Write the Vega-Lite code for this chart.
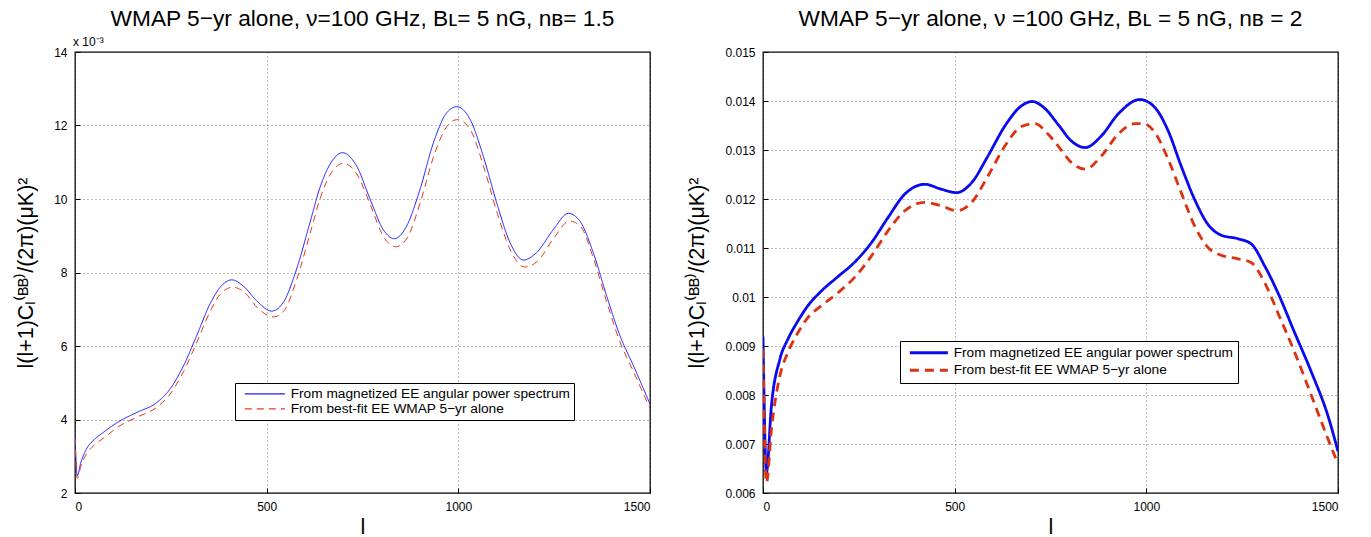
{
  "$schema": "https://vega.github.io/schema/vega-lite/v6.json",
  "background": "white",
  "padding": {"left": 15, "top": 7, "right": 10, "bottom": 4},
  "config": {
    "font": "Liberation Sans",
    "view": {"stroke": "black", "strokeWidth": 1.3},
    "axis": {
      "labelFont": "Liberation Sans", "labelFontSize": 12, "labelColor": "black",
      "titleFont": "Liberation Sans", "titleFontSize": 21.5, "titleFontWeight": "normal", "titleColor": "black",
      "ticks": true, "tickSize": -5, "tickColor": "black", "tickWidth": 1, "domain": false, "grid": true,
      "gridColor": "#555555", "gridDash": [1, 3], "gridWidth": 0.8,
      "labelPadding": 13
    },
    "title": {"font": "Liberation Sans", "fontSize": 22.7, "fontWeight": "normal", "color": "black"},
    "legend": {"labelFont": "Liberation Sans", "labelFontSize": 13.7, "labelColor": "black", "labelLimit": 500}
  },
  "datasets": {
    "left": [
      {"l": 0, "value": 0.00360, "series": "From magnetized EE angular power spectrum"},
      {"l": 6, "value": 0.00247, "series": "From magnetized EE angular power spectrum"},
      {"l": 15, "value": 0.00282, "series": "From magnetized EE angular power spectrum"},
      {"l": 30, "value": 0.00320, "series": "From magnetized EE angular power spectrum"},
      {"l": 50, "value": 0.00345, "series": "From magnetized EE angular power spectrum"},
      {"l": 74, "value": 0.00365, "series": "From magnetized EE angular power spectrum"},
      {"l": 117, "value": 0.00396, "series": "From magnetized EE angular power spectrum"},
      {"l": 161, "value": 0.00419, "series": "From magnetized EE angular power spectrum"},
      {"l": 213, "value": 0.00446, "series": "From magnetized EE angular power spectrum"},
      {"l": 248, "value": 0.00483, "series": "From magnetized EE angular power spectrum"},
      {"l": 283, "value": 0.00546, "series": "From magnetized EE angular power spectrum"},
      {"l": 317, "value": 0.00627, "series": "From magnetized EE angular power spectrum"},
      {"l": 352, "value": 0.00714, "series": "From magnetized EE angular power spectrum"},
      {"l": 378, "value": 0.00759, "series": "From magnetized EE angular power spectrum"},
      {"l": 409, "value": 0.00780, "series": "From magnetized EE angular power spectrum"},
      {"l": 439, "value": 0.00763, "series": "From magnetized EE angular power spectrum"},
      {"l": 474, "value": 0.00723, "series": "From magnetized EE angular power spectrum"},
      {"l": 513, "value": 0.00695, "series": "From magnetized EE angular power spectrum"},
      {"l": 543, "value": 0.00718, "series": "From magnetized EE angular power spectrum"},
      {"l": 578, "value": 0.00809, "series": "From magnetized EE angular power spectrum"},
      {"l": 613, "value": 0.00936, "series": "From magnetized EE angular power spectrum"},
      {"l": 639, "value": 0.01031, "series": "From magnetized EE angular power spectrum"},
      {"l": 665, "value": 0.01094, "series": "From magnetized EE angular power spectrum"},
      {"l": 698, "value": 0.01126, "series": "From magnetized EE angular power spectrum"},
      {"l": 735, "value": 0.01089, "series": "From magnetized EE angular power spectrum"},
      {"l": 770, "value": 0.00999, "series": "From magnetized EE angular power spectrum"},
      {"l": 804, "value": 0.00917, "series": "From magnetized EE angular power spectrum"},
      {"l": 833, "value": 0.00892, "series": "From magnetized EE angular power spectrum"},
      {"l": 865, "value": 0.00926, "series": "From magnetized EE angular power spectrum"},
      {"l": 900, "value": 0.01026, "series": "From magnetized EE angular power spectrum"},
      {"l": 935, "value": 0.01153, "series": "From magnetized EE angular power spectrum"},
      {"l": 970, "value": 0.01235, "series": "From magnetized EE angular power spectrum"},
      {"l": 996, "value": 0.01251, "series": "From magnetized EE angular power spectrum"},
      {"l": 1031, "value": 0.01216, "series": "From magnetized EE angular power spectrum"},
      {"l": 1065, "value": 0.01117, "series": "From magnetized EE angular power spectrum"},
      {"l": 1100, "value": 0.00990, "series": "From magnetized EE angular power spectrum"},
      {"l": 1135, "value": 0.00881, "series": "From magnetized EE angular power spectrum"},
      {"l": 1170, "value": 0.00834, "series": "From magnetized EE angular power spectrum"},
      {"l": 1204, "value": 0.00854, "series": "From magnetized EE angular power spectrum"},
      {"l": 1248, "value": 0.00917, "series": "From magnetized EE angular power spectrum"},
      {"l": 1287, "value": 0.00961, "series": "From magnetized EE angular power spectrum"},
      {"l": 1317, "value": 0.00940, "series": "From magnetized EE angular power spectrum"},
      {"l": 1352, "value": 0.00854, "series": "From magnetized EE angular power spectrum"},
      {"l": 1387, "value": 0.00736, "series": "From magnetized EE angular power spectrum"},
      {"l": 1422, "value": 0.00627, "series": "From magnetized EE angular power spectrum"},
      {"l": 1457, "value": 0.00546, "series": "From magnetized EE angular power spectrum"},
      {"l": 1500, "value": 0.00442, "series": "From magnetized EE angular power spectrum"},
      {"l": 0, "value": 0.00350, "series": "From best-fit EE WMAP 5−yr alone"},
      {"l": 6, "value": 0.00240, "series": "From best-fit EE WMAP 5−yr alone"},
      {"l": 15, "value": 0.00272, "series": "From best-fit EE WMAP 5−yr alone"},
      {"l": 30, "value": 0.00306, "series": "From best-fit EE WMAP 5−yr alone"},
      {"l": 50, "value": 0.00330, "series": "From best-fit EE WMAP 5−yr alone"},
      {"l": 74, "value": 0.00349, "series": "From best-fit EE WMAP 5−yr alone"},
      {"l": 117, "value": 0.00383, "series": "From best-fit EE WMAP 5−yr alone"},
      {"l": 161, "value": 0.00406, "series": "From best-fit EE WMAP 5−yr alone"},
      {"l": 213, "value": 0.00433, "series": "From best-fit EE WMAP 5−yr alone"},
      {"l": 248, "value": 0.00469, "series": "From best-fit EE WMAP 5−yr alone"},
      {"l": 283, "value": 0.00530, "series": "From best-fit EE WMAP 5−yr alone"},
      {"l": 317, "value": 0.00608, "series": "From best-fit EE WMAP 5−yr alone"},
      {"l": 352, "value": 0.00693, "series": "From best-fit EE WMAP 5−yr alone"},
      {"l": 378, "value": 0.00740, "series": "From best-fit EE WMAP 5−yr alone"},
      {"l": 412, "value": 0.00760, "series": "From best-fit EE WMAP 5−yr alone"},
      {"l": 442, "value": 0.00746, "series": "From best-fit EE WMAP 5−yr alone"},
      {"l": 477, "value": 0.00703, "series": "From best-fit EE WMAP 5−yr alone"},
      {"l": 518, "value": 0.00679, "series": "From best-fit EE WMAP 5−yr alone"},
      {"l": 546, "value": 0.00697, "series": "From best-fit EE WMAP 5−yr alone"},
      {"l": 578, "value": 0.00780, "series": "From best-fit EE WMAP 5−yr alone"},
      {"l": 613, "value": 0.00905, "series": "From best-fit EE WMAP 5−yr alone"},
      {"l": 639, "value": 0.01000, "series": "From best-fit EE WMAP 5−yr alone"},
      {"l": 665, "value": 0.01065, "series": "From best-fit EE WMAP 5−yr alone"},
      {"l": 700, "value": 0.01097, "series": "From best-fit EE WMAP 5−yr alone"},
      {"l": 737, "value": 0.01065, "series": "From best-fit EE WMAP 5−yr alone"},
      {"l": 772, "value": 0.00980, "series": "From best-fit EE WMAP 5−yr alone"},
      {"l": 806, "value": 0.00895, "series": "From best-fit EE WMAP 5−yr alone"},
      {"l": 837, "value": 0.00870, "series": "From best-fit EE WMAP 5−yr alone"},
      {"l": 868, "value": 0.00897, "series": "From best-fit EE WMAP 5−yr alone"},
      {"l": 902, "value": 0.00995, "series": "From best-fit EE WMAP 5−yr alone"},
      {"l": 937, "value": 0.01120, "series": "From best-fit EE WMAP 5−yr alone"},
      {"l": 972, "value": 0.01200, "series": "From best-fit EE WMAP 5−yr alone"},
      {"l": 998, "value": 0.01216, "series": "From best-fit EE WMAP 5−yr alone"},
      {"l": 1033, "value": 0.01185, "series": "From best-fit EE WMAP 5−yr alone"},
      {"l": 1067, "value": 0.01085, "series": "From best-fit EE WMAP 5−yr alone"},
      {"l": 1102, "value": 0.00960, "series": "From best-fit EE WMAP 5−yr alone"},
      {"l": 1137, "value": 0.00858, "series": "From best-fit EE WMAP 5−yr alone"},
      {"l": 1173, "value": 0.00815, "series": "From best-fit EE WMAP 5−yr alone"},
      {"l": 1206, "value": 0.00830, "series": "From best-fit EE WMAP 5−yr alone"},
      {"l": 1250, "value": 0.00895, "series": "From best-fit EE WMAP 5−yr alone"},
      {"l": 1290, "value": 0.00940, "series": "From best-fit EE WMAP 5−yr alone"},
      {"l": 1319, "value": 0.00925, "series": "From best-fit EE WMAP 5−yr alone"},
      {"l": 1352, "value": 0.00840, "series": "From best-fit EE WMAP 5−yr alone"},
      {"l": 1387, "value": 0.00720, "series": "From best-fit EE WMAP 5−yr alone"},
      {"l": 1422, "value": 0.00610, "series": "From best-fit EE WMAP 5−yr alone"},
      {"l": 1457, "value": 0.00530, "series": "From best-fit EE WMAP 5−yr alone"},
      {"l": 1500, "value": 0.00430, "series": "From best-fit EE WMAP 5−yr alone"}
    ],
    "right": [
      {"l": 0, "value": 0.00920, "series": "From magnetized EE angular power spectrum"},
      {"l": 9, "value": 0.00642, "series": "From magnetized EE angular power spectrum"},
      {"l": 22, "value": 0.00778, "series": "From magnetized EE angular power spectrum"},
      {"l": 44, "value": 0.00873, "series": "From magnetized EE angular power spectrum"},
      {"l": 65, "value": 0.00914, "series": "From magnetized EE angular power spectrum"},
      {"l": 91, "value": 0.00951, "series": "From magnetized EE angular power spectrum"},
      {"l": 117, "value": 0.00982, "series": "From magnetized EE angular power spectrum"},
      {"l": 152, "value": 0.01012, "series": "From magnetized EE angular power spectrum"},
      {"l": 196, "value": 0.01042, "series": "From magnetized EE angular power spectrum"},
      {"l": 239, "value": 0.01071, "series": "From magnetized EE angular power spectrum"},
      {"l": 283, "value": 0.01111, "series": "From magnetized EE angular power spectrum"},
      {"l": 326, "value": 0.01162, "series": "From magnetized EE angular power spectrum"},
      {"l": 370, "value": 0.01210, "series": "From magnetized EE angular power spectrum"},
      {"l": 422, "value": 0.01230, "series": "From magnetized EE angular power spectrum"},
      {"l": 465, "value": 0.01220, "series": "From magnetized EE angular power spectrum"},
      {"l": 505, "value": 0.01213, "series": "From magnetized EE angular power spectrum"},
      {"l": 544, "value": 0.01233, "series": "From magnetized EE angular power spectrum"},
      {"l": 587, "value": 0.01288, "series": "From magnetized EE angular power spectrum"},
      {"l": 631, "value": 0.01349, "series": "From magnetized EE angular power spectrum"},
      {"l": 674, "value": 0.01390, "series": "From magnetized EE angular power spectrum"},
      {"l": 702, "value": 0.01399, "series": "From magnetized EE angular power spectrum"},
      {"l": 735, "value": 0.01385, "series": "From magnetized EE angular power spectrum"},
      {"l": 770, "value": 0.01352, "series": "From magnetized EE angular power spectrum"},
      {"l": 805, "value": 0.01318, "series": "From magnetized EE angular power spectrum"},
      {"l": 841, "value": 0.01305, "series": "From magnetized EE angular power spectrum"},
      {"l": 883, "value": 0.01329, "series": "From magnetized EE angular power spectrum"},
      {"l": 926, "value": 0.01373, "series": "From magnetized EE angular power spectrum"},
      {"l": 983, "value": 0.01403, "series": "From magnetized EE angular power spectrum"},
      {"l": 1022, "value": 0.01387, "series": "From magnetized EE angular power spectrum"},
      {"l": 1057, "value": 0.01339, "series": "From magnetized EE angular power spectrum"},
      {"l": 1091, "value": 0.01267, "series": "From magnetized EE angular power spectrum"},
      {"l": 1126, "value": 0.01199, "series": "From magnetized EE angular power spectrum"},
      {"l": 1161, "value": 0.01148, "series": "From magnetized EE angular power spectrum"},
      {"l": 1196, "value": 0.01126, "series": "From magnetized EE angular power spectrum"},
      {"l": 1239, "value": 0.01119, "series": "From magnetized EE angular power spectrum"},
      {"l": 1274, "value": 0.01108, "series": "From magnetized EE angular power spectrum"},
      {"l": 1309, "value": 0.01063, "series": "From magnetized EE angular power spectrum"},
      {"l": 1343, "value": 0.01009, "series": "From magnetized EE angular power spectrum"},
      {"l": 1387, "value": 0.00927, "series": "From magnetized EE angular power spectrum"},
      {"l": 1431, "value": 0.00846, "series": "From magnetized EE angular power spectrum"},
      {"l": 1474, "value": 0.00757, "series": "From magnetized EE angular power spectrum"},
      {"l": 1500, "value": 0.00685, "series": "From magnetized EE angular power spectrum"},
      {"l": 0, "value": 0.00893, "series": "From best-fit EE WMAP 5−yr alone"},
      {"l": 9, "value": 0.00621, "series": "From best-fit EE WMAP 5−yr alone"},
      {"l": 22, "value": 0.00730, "series": "From best-fit EE WMAP 5−yr alone"},
      {"l": 44, "value": 0.00839, "series": "From best-fit EE WMAP 5−yr alone"},
      {"l": 65, "value": 0.00887, "series": "From best-fit EE WMAP 5−yr alone"},
      {"l": 91, "value": 0.00927, "series": "From best-fit EE WMAP 5−yr alone"},
      {"l": 117, "value": 0.00958, "series": "From best-fit EE WMAP 5−yr alone"},
      {"l": 152, "value": 0.00982, "series": "From best-fit EE WMAP 5−yr alone"},
      {"l": 196, "value": 0.01009, "series": "From best-fit EE WMAP 5−yr alone"},
      {"l": 239, "value": 0.01040, "series": "From best-fit EE WMAP 5−yr alone"},
      {"l": 283, "value": 0.01084, "series": "From best-fit EE WMAP 5−yr alone"},
      {"l": 326, "value": 0.01135, "series": "From best-fit EE WMAP 5−yr alone"},
      {"l": 370, "value": 0.01176, "series": "From best-fit EE WMAP 5−yr alone"},
      {"l": 422, "value": 0.01193, "series": "From best-fit EE WMAP 5−yr alone"},
      {"l": 465, "value": 0.01186, "series": "From best-fit EE WMAP 5−yr alone"},
      {"l": 505, "value": 0.01176, "series": "From best-fit EE WMAP 5−yr alone"},
      {"l": 544, "value": 0.01193, "series": "From best-fit EE WMAP 5−yr alone"},
      {"l": 587, "value": 0.01247, "series": "From best-fit EE WMAP 5−yr alone"},
      {"l": 631, "value": 0.01308, "series": "From best-fit EE WMAP 5−yr alone"},
      {"l": 674, "value": 0.01348, "series": "From best-fit EE WMAP 5−yr alone"},
      {"l": 709, "value": 0.01354, "series": "From best-fit EE WMAP 5−yr alone"},
      {"l": 744, "value": 0.01332, "series": "From best-fit EE WMAP 5−yr alone"},
      {"l": 772, "value": 0.01306, "series": "From best-fit EE WMAP 5−yr alone"},
      {"l": 805, "value": 0.01274, "series": "From best-fit EE WMAP 5−yr alone"},
      {"l": 841, "value": 0.01261, "series": "From best-fit EE WMAP 5−yr alone"},
      {"l": 883, "value": 0.01288, "series": "From best-fit EE WMAP 5−yr alone"},
      {"l": 926, "value": 0.01332, "series": "From best-fit EE WMAP 5−yr alone"},
      {"l": 970, "value": 0.01354, "series": "From best-fit EE WMAP 5−yr alone"},
      {"l": 996, "value": 0.01353, "series": "From best-fit EE WMAP 5−yr alone"},
      {"l": 1022, "value": 0.01336, "series": "From best-fit EE WMAP 5−yr alone"},
      {"l": 1057, "value": 0.01281, "series": "From best-fit EE WMAP 5−yr alone"},
      {"l": 1091, "value": 0.01213, "series": "From best-fit EE WMAP 5−yr alone"},
      {"l": 1126, "value": 0.01145, "series": "From best-fit EE WMAP 5−yr alone"},
      {"l": 1161, "value": 0.01101, "series": "From best-fit EE WMAP 5−yr alone"},
      {"l": 1196, "value": 0.01085, "series": "From best-fit EE WMAP 5−yr alone"},
      {"l": 1239, "value": 0.01078, "series": "From best-fit EE WMAP 5−yr alone"},
      {"l": 1274, "value": 0.01070, "series": "From best-fit EE WMAP 5−yr alone"},
      {"l": 1309, "value": 0.01029, "series": "From best-fit EE WMAP 5−yr alone"},
      {"l": 1343, "value": 0.00968, "series": "From best-fit EE WMAP 5−yr alone"},
      {"l": 1387, "value": 0.00887, "series": "From best-fit EE WMAP 5−yr alone"},
      {"l": 1431, "value": 0.00798, "series": "From best-fit EE WMAP 5−yr alone"},
      {"l": 1474, "value": 0.00710, "series": "From best-fit EE WMAP 5−yr alone"},
      {"l": 1500, "value": 0.00659, "series": "From best-fit EE WMAP 5−yr alone"}
    ],
    "scale_note": [
      {"l": 0, "value": 0.014, "label": "x 10⁻³"}
    ]
  },
  "spacing": 34,
  "resolve": {
    "scale": {"color": "independent", "strokeDash": "independent"},
    "legend": {"color": "independent", "strokeDash": "independent"}
  },
  "hconcat": [
    {
      "width": 575,
      "height": 441,
      "title": {"text": "WMAP 5−yr alone,  ν=100 GHz, Bʟ= 5 nG, nʙ= 1.5", "offset": 4.5},
      "layer": [
        {
          "data": {"name": "left"},
          "mark": {"type": "line", "strokeWidth": 1, "interpolate": "monotone", "clip": true},
          "encoding": {
            "x": {"field": "l", "type": "quantitative",
                  "scale": {"domain": [0, 1500], "nice": false},
                  "axis": {"values": [0, 500, 1000, 1500], "format": "d", "title": "l", "titlePadding": 4}},
            "y": {"field": "value", "type": "quantitative",
                  "scale": {"domain": [0.002, 0.014], "nice": false, "zero": false},
                  "axis": {"values": [0.002, 0.004, 0.006, 0.008, 0.010, 0.012, 0.014],
                           "labelExpr": "format(datum.value*1000, 'd')",
                           "title": "l(l+1)Cₗ⁽ᴮᴮ⁾/(2π)(μK)²", "titlePadding": 16}},
            "color": {"field": "series", "type": "nominal",
                      "scale": {"domain": ["From magnetized EE angular power spectrum", "From best-fit EE WMAP 5−yr alone"], "range": ["#1a1aff", "#e23c1a"]},
                      "legend": {"orient": "none", "legendX": 160, "legendY": 331, "title": null,
                                 "symbolType": "M-4,0H4", "symbolSize": 100, "symbolStrokeWidth": 1.2, "symbolOffset": 19,
                                 "strokeColor": "black", "fillColor": "white", "padding": 4, "rowPadding": 0, "labelOffset": 19}},
            "strokeDash": {"field": "series", "type": "nominal",
                           "scale": {"domain": ["From magnetized EE angular power spectrum", "From best-fit EE WMAP 5−yr alone"], "range": [[1, 0], [7, 5]]},
                           "legend": {"orient": "none", "legendX": 160, "legendY": 331, "title": null,
                                 "symbolType": "M-4,0H4", "symbolSize": 100, "symbolStrokeWidth": 1.2, "symbolOffset": 19,
                                 "strokeColor": "black", "fillColor": "white", "padding": 4, "rowPadding": 0, "labelOffset": 19}}
          }
        },
        {
          "data": {"name": "scale_note"},
          "mark": {"type": "text", "align": "left", "baseline": "bottom", "dx": -2, "dy": -3.5, "fontSize": 12, "font": "Liberation Sans", "color": "black"},
          "encoding": {
            "x": {"field": "l", "type": "quantitative"},
            "y": {"field": "value", "type": "quantitative"},
            "text": {"field": "label", "type": "nominal"}
          }
        }
      ]
    },
    {
      "width": 575,
      "height": 441,
      "title": {"text": "WMAP 5−yr alone,  ν =100 GHz, Bʟ = 5 nG, nʙ = 2", "offset": 15.5},
      "data": {"name": "right"},
      "mark": {"type": "line", "strokeWidth": 2.8, "interpolate": "monotone", "clip": true},
      "encoding": {
        "x": {"field": "l", "type": "quantitative",
              "scale": {"domain": [0, 1500], "nice": false},
              "axis": {"values": [0, 500, 1000, 1500], "format": "d", "title": "l", "titlePadding": 4}},
        "y": {"field": "value", "type": "quantitative",
              "scale": {"domain": [0.006, 0.015], "nice": false, "zero": false},
              "axis": {"values": [0.006, 0.007, 0.008, 0.009, 0.010, 0.011, 0.012, 0.013, 0.014, 0.015],
                       "labelExpr": "format(datum.value, '.3~f')",
                       "title": "l(l+1)Cₗ⁽ᴮᴮ⁾/(2π)(μK)²", "titlePadding": 16}},
        "color": {"field": "series", "type": "nominal",
                  "scale": {"domain": ["From magnetized EE angular power spectrum", "From best-fit EE WMAP 5−yr alone"], "range": ["#0a0aee", "#dd3212"]},
                  "legend": {"orient": "none", "legendX": 137, "legendY": 289, "title": null,
                             "symbolType": "M-3.8,0H3.8", "symbolSize": 100, "symbolStrokeWidth": 3, "symbolOffset": 17,
                             "strokeColor": "black", "fillColor": "white", "padding": 5, "rowPadding": 2.5, "labelOffset": 18}},
        "strokeDash": {"field": "series", "type": "nominal",
                       "scale": {"domain": ["From magnetized EE angular power spectrum", "From best-fit EE WMAP 5−yr alone"], "range": [[1, 0], [9, 6]]},
                       "legend": {"orient": "none", "legendX": 137, "legendY": 289, "title": null,
                             "symbolType": "M-3.8,0H3.8", "symbolSize": 100, "symbolStrokeWidth": 3, "symbolOffset": 17,
                             "strokeColor": "black", "fillColor": "white", "padding": 5, "rowPadding": 2.5, "labelOffset": 18}}
      }
    }
  ]
}
